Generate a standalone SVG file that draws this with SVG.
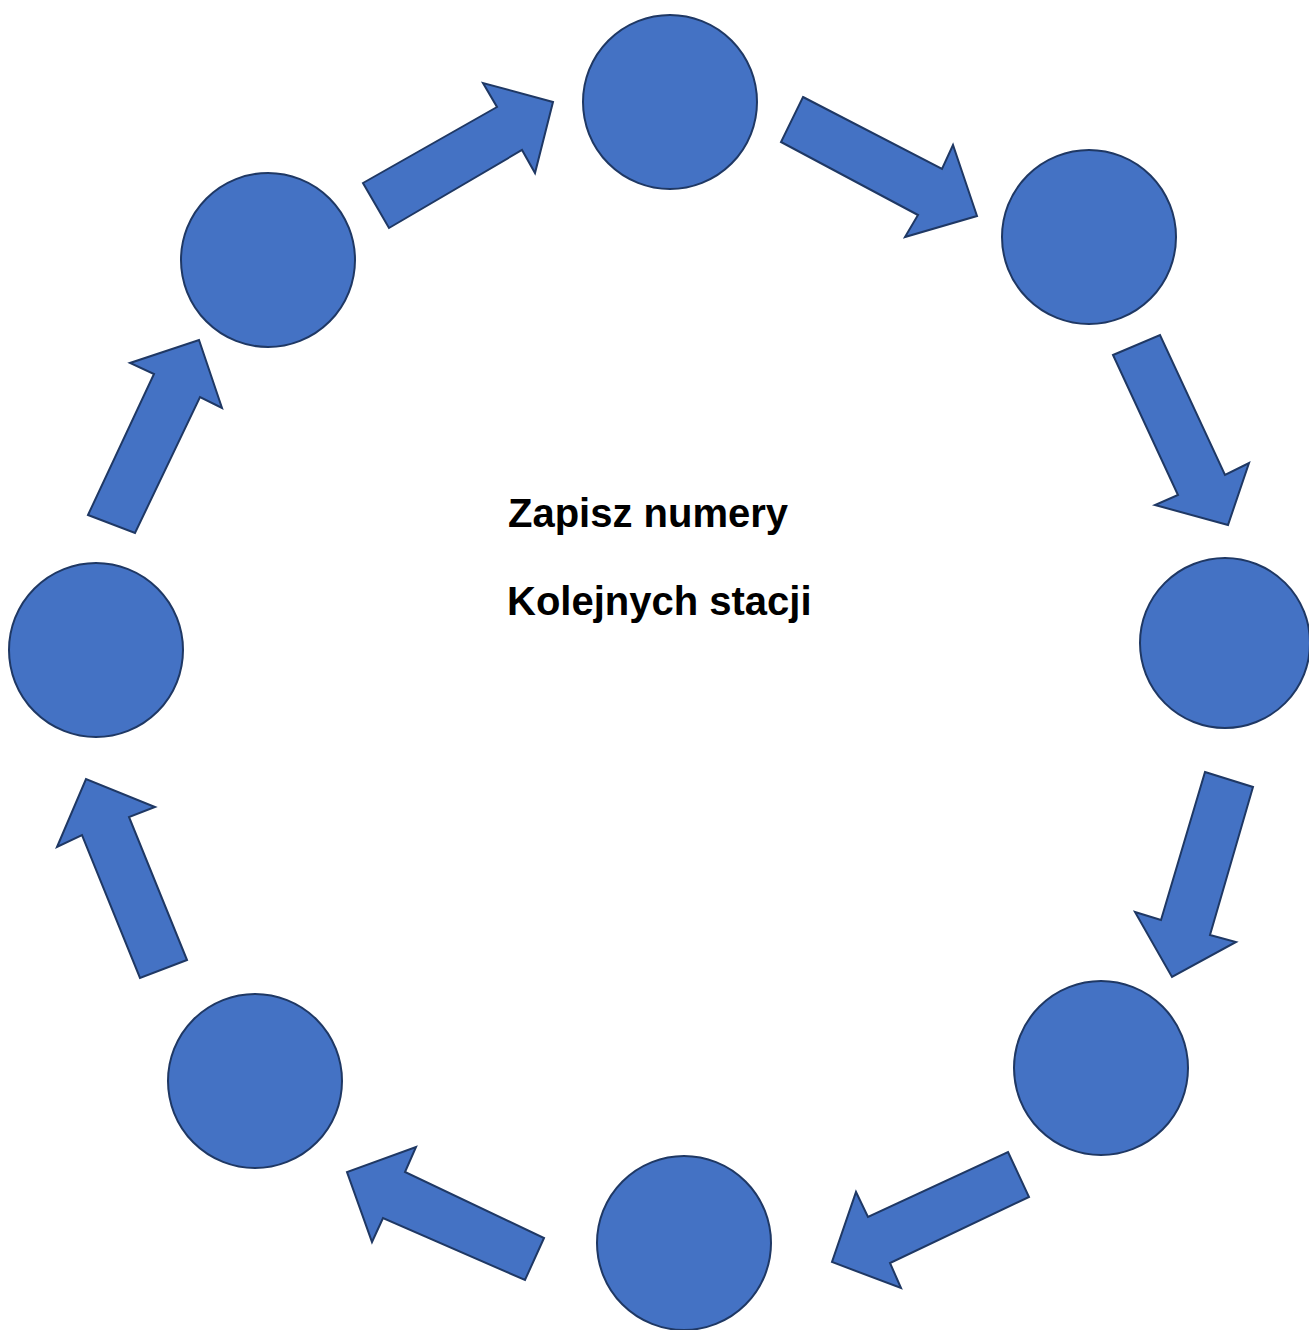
<svg xmlns="http://www.w3.org/2000/svg" width="1309" height="1330" viewBox="0 0 1309 1330">
<style>
.node{fill:#4472C4;stroke:#1F3864;stroke-width:2}
.arr{fill:#4472C4;stroke:#1F3864;stroke-width:2;stroke-linejoin:miter}
.lbl{font-family:"Liberation Sans",Arial,sans-serif;font-weight:bold;font-size:40px;fill:#000}
</style>
<rect width="1309" height="1330" fill="#fff"/>
<g id="connectors">
<polygon class="arr" points="363,183 497,107 483,83 553,102 535,173 522,150 389,228"/>
<polygon class="arr" points="803,97 942,169 953,145 977,216 905,237 918,215 781,142"/>
<polygon class="arr" points="1113,355 1160,335 1225,475 1249,463 1228,525 1155,505 1178,495"/>
<polygon class="arr" points="1205,772 1253,787 1210,935 1236,942 1172,977 1135,912 1161,920"/>
<polygon class="arr" points="1008,1152 1029,1197 890,1263 901,1288 832,1262 856,1192 868,1217"/>
<polygon class="arr" points="544,1238 525,1280 383,1218 372,1242 347,1172 416,1147 405,1172"/>
<polygon class="arr" points="187,960 140,978 82,835 57,847 86,779 155,807 129,817"/>
<polygon class="arr" points="88,515 135,533 200,397 222,408 199,340 130,363 154,374"/>
</g>
<g id="node-top"><circle class="node" cx="670" cy="102" r="87"/></g>
<g id="node-top-right"><circle class="node" cx="1089" cy="237" r="87"/></g>
<g id="node-right"><circle class="node" cx="1225" cy="643" r="85"/></g>
<g id="node-bottom-right"><circle class="node" cx="1101" cy="1068" r="87"/></g>
<g id="node-bottom"><circle class="node" cx="684" cy="1243" r="87"/></g>
<g id="node-bottom-left"><circle class="node" cx="255" cy="1081" r="87"/></g>
<g id="node-left"><circle class="node" cx="96" cy="650" r="87"/></g>
<g id="node-top-left"><circle class="node" cx="268" cy="260" r="87"/></g>
<g id="title">
<text class="lbl" x="508" y="527">Zapisz numery</text>
<text class="lbl" x="507" y="615">Kolejnych stacji</text>
</g>
</svg>
